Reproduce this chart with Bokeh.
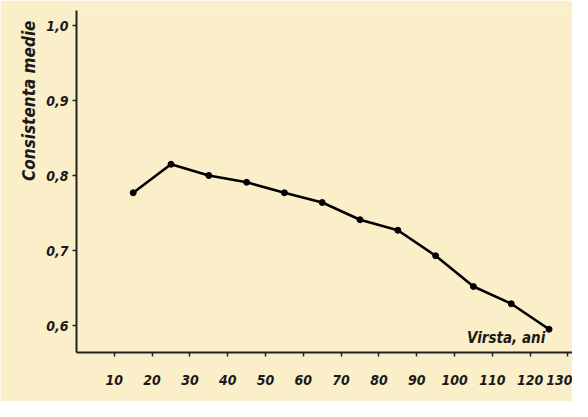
from bokeh.plotting import figure
from bokeh.models import Label, Range1d, FixedTicker, Title
from bokeh.embed import file_html
from bokeh.resources import INLINE

# Data
ages = [15, 25, 35, 45, 55, 65, 75, 85, 95, 105, 115, 125]
consistency = [0.777, 0.815, 0.800, 0.791, 0.777, 0.764, 0.741, 0.727, 0.693, 0.652, 0.629, 0.595]
x_ticks = [10, 20, 30, 40, 50, 60, 70, 80, 90, 100, 110, 120, 130]
y_ticks = [0.6, 0.7, 0.8, 0.9, 1.0]
y_tick_labels = ["0,6", "0,7", "0,8", "0,9", "1,0"]
x_title = "Virsta, ani"
y_title = "Consistenta medie"

BG = "#fbefc9"
FONT = "DejaVu Sans Condensed"

p = figure(width=572, height=401, output_backend="svg", toolbar_location=None,
           x_range=Range1d(0, 131.2), y_range=Range1d(0.564, 1.02),
           min_border_left=76, min_border_right=0, min_border_top=10, min_border_bottom=49)
p.background_fill_color = BG
p.border_fill_color = BG
p.outline_line_color = None
p.grid.visible = False

p.line(ages, consistency, line_color="black", line_width=2.6)
p.scatter(ages, consistency, size=6, color="black")

for ax in (p.xaxis[0], p.yaxis[0]):
    ax.axis_line_width = 2
    ax.axis_line_color = "#222222"
    ax.major_tick_line_color = "#222222"
    ax.major_tick_line_width = 1.5
    ax.minor_tick_line_color = None
    ax.major_tick_in = 0
    ax.major_tick_out = 4
    ax.major_label_text_font = FONT
    ax.major_label_text_font_style = "bold italic"
    ax.major_label_text_font_size = "14px"
    ax.major_label_text_color = "#1a1a1a"

p.xaxis.ticker = FixedTicker(ticks=x_ticks)
p.xaxis.major_label_standoff = 18
p.yaxis.ticker = FixedTicker(ticks=y_ticks)
p.yaxis.major_label_overrides = {t: l for t, l in zip(y_ticks, y_tick_labels)}
p.yaxis.major_label_standoff = 4

ytitle = Title(text=y_title, align="right", offset=10, standoff=10,
               text_font=FONT, text_font_style="bold italic",
               text_font_size="17px", text_color="#1a1a1a")
p.add_layout(ytitle, "left")

p.add_layout(Label(x=124, y=0.571, text=x_title, text_align="right",
                   text_font=FONT, text_font_style="bold italic",
                   text_font_size="15px", text_color="#1a1a1a"))

open("out.html", "w").write(file_html(p, INLINE))
